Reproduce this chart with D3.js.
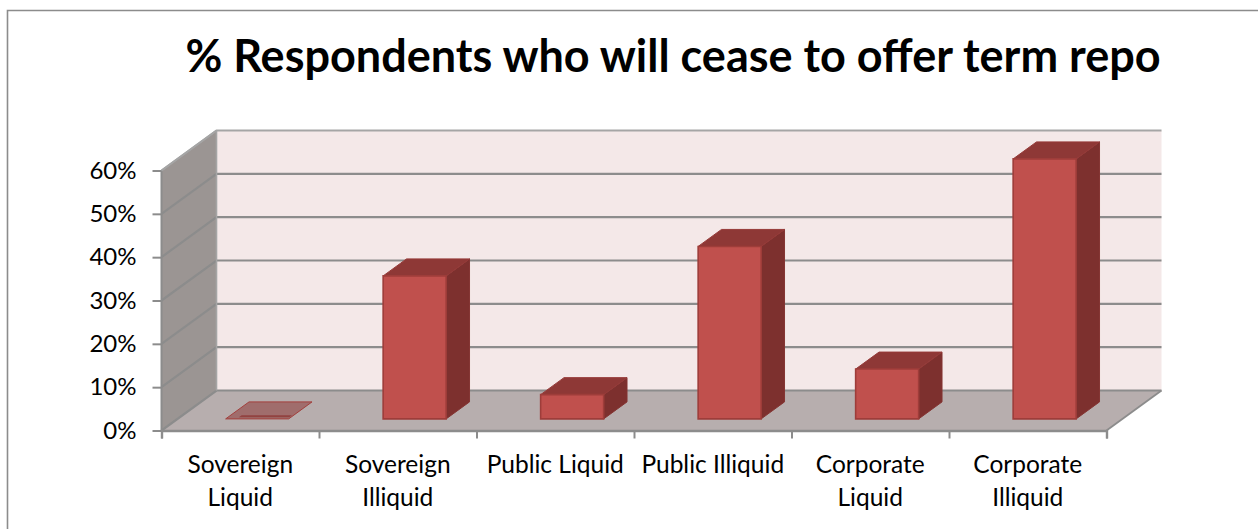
<!DOCTYPE html>
<html>
<head>
<meta charset="utf-8">
<script src="https://cdn.jsdelivr.net/npm/d3@7"></script>
<style>
  html, body { margin: 0; padding: 0; background: #fff; }
  svg { display: block; }
  text { font-family: Lato, "Open Sans", sans-serif; fill: #000; }
</style>
</head>
<body>
<svg id="chart" width="1258" height="529"></svg>
<script>
const categories = [
  ["Sovereign", "Liquid"],
  ["Sovereign", "Illiquid"],
  ["Public Liquid"],
  ["Public Illiquid"],
  ["Corporate", "Liquid"],
  ["Corporate", "Illiquid"]
];
const values = [0, 33, 5.6, 39.8, 11.5, 60];
const yTicks = [0, 10, 20, 30, 40, 50, 60];
const chartTitle = "% Respondents who will cease to offer term repo";

const svg = d3.select("#chart");

// Oblique projection: x/y locate a point on the front plane, depth (0..1) pushes it back.
const xFront = d3.scaleLinear().domain([0, 6]).range([161.5, 1106.5]);
const yFront = d3.scaleLinear().domain([0, 60]).range([430.5, 170.5]);
const depthX = d3.scaleLinear().domain([0, 1]).range([0, 55]);
const depthY = d3.scaleLinear().domain([0, 1]).range([0, -40]);
const project = (i, v, d) => [xFront(i) + depthX(d), yFront(v) + depthY(d)];
const poly = pts => pts.map(p => p.join(",")).join(" ");

const barFrontDepth = 0.29, barBackDepth = 0.715, barWidth = 0.4, barCentre = 0.506;
const gridColor = "#8c8c8c";

// Outer chart frame (top and left edges)
svg.append("path").attr("d", "M7.5,529V10.5H1258").attr("fill", "none")
  .attr("stroke", gridColor).attr("stroke-width", 1.6);

// Back wall
svg.append("polygon").attr("fill", "#f4e8e8")
  .attr("points", poly([project(0, 0, 1), project(0, 60, 1), project(6, 60, 1), project(6, 0, 1)]));

// Side wall
svg.append("polygon").attr("fill", "#9b9593")
  .attr("points", poly([project(0, 0, 0), project(0, 60, 0), project(0, 60, 1), project(0, 0, 1)]));

// Floor
svg.append("polygon").attr("fill", "#b7aeae")
  .attr("points", poly([project(0, 0, 0), project(0, 0, 1), project(6, 0, 1), project(6, 0, 0)]));

// Gridlines run along the side wall and across the back wall
const grid = svg.append("g").attr("fill", "none").attr("stroke", gridColor);
grid.selectAll("polyline").data(yTicks).join("polyline")
  .attr("stroke-width", d => d === 60 ? 1.8 : 2.2)
  .attr("stroke", d => d === 60 ? "#a5a5a5" : gridColor)
  .attr("points", d => poly([project(0, d, 0), project(0, d, 1), project(6, d, 1)]));
grid.append("line").attr("stroke-width", 2)
  .attr("x1", project(0, 0, 0)[0]).attr("y1", project(0, 0, 0)[1])
  .attr("x2", project(0, 60, 0)[0]).attr("y2", project(0, 60, 0)[1]);
grid.append("line").attr("stroke-width", 1.6).attr("stroke", "#a5a5a5")
  .attr("x1", project(0, 0, 1)[0]).attr("y1", project(0, 0, 1)[1])
  .attr("x2", project(0, 60, 1)[0]).attr("y2", project(0, 60, 1)[1]);
grid.append("line").attr("stroke-width", 1.6).attr("stroke", "#a5a5a5")
  .attr("x1", project(0, 60, 0)[0]).attr("y1", project(0, 60, 0)[1])
  .attr("x2", project(0, 60, 1)[0]).attr("y2", project(0, 60, 1)[1]);
grid.append("line").attr("stroke-width", 1.8)
  .attr("x1", project(6, 0, 0)[0]).attr("y1", project(6, 0, 0)[1])
  .attr("x2", project(6, 0, 1)[0]).attr("y2", project(6, 0, 1)[1]);

// Bars, as extruded boxes
const bars = svg.append("g").selectAll("g").data(values).join("g");
const box = (i, v) => {
  const l = i + barCentre - barWidth / 2, r = i + barCentre + barWidth / 2;
  return {
    front: [project(l, v, barFrontDepth), project(r, v, barFrontDepth), project(r, 0, barFrontDepth), project(l, 0, barFrontDepth)],
    top: [project(l, v, barFrontDepth), project(l, v, barBackDepth), project(r, v, barBackDepth), project(r, v, barFrontDepth)],
    side: [project(r, v, barFrontDepth), project(r, v, barBackDepth), project(r, 0, barBackDepth), project(r, 0, barFrontDepth)]
  };
};
bars.each(function (v, i) {
  const g = d3.select(this), b = box(i, v);
  if (v === 0) {
    // A zero-height bar shows only as a translucent footprint on the floor
    g.append("polygon").attr("points", poly(b.top))
      .attr("fill", "#8e3836").attr("fill-opacity", 0.55)
      .attr("stroke", "#a33f3c").attr("stroke-width", 1);
    const l = i + barCentre - barWidth / 2, r = i + barCentre + barWidth / 2;
    g.append("polygon").attr("fill", "#8e3836").attr("fill-opacity", 0.8)
      .attr("points", poly([project(l + 0.07, v, 0.38), project(r - 0.01, v, 0.38), project(r - 0.01, v, 0.33), project(l + 0.07, v, 0.33)]));
    return;
  }
  g.append("polygon").attr("points", poly(b.side)).attr("fill", "#7d302e").attr("stroke", "#853533").attr("stroke-width", 1);
  g.append("polygon").attr("points", poly(b.top)).attr("fill", "#8e3836").attr("stroke", "#963a38").attr("stroke-width", 1);
  g.append("polygon").attr("points", poly(b.front)).attr("fill", "#c0504d").attr("stroke", "#9e3d3a").attr("stroke-width", 1.6);
});

// Value axis
const yAxis = svg.append("g").attr("transform", `translate(${xFront(0)},0)`)
  .call(d3.axisLeft(yFront).tickValues(yTicks).tickSize(9).tickPadding(16).tickFormat(d => d + "%"));
yAxis.select(".domain").remove();
yAxis.selectAll("line").attr("stroke", gridColor).attr("stroke-width", 2);
yAxis.selectAll("text").attr("font-size", 24).style("font-family", "Lato");

// Category axis: ticks at band edges, wrapped labels at band centres
const xAxis = svg.append("g").attr("transform", `translate(0,${yFront(0)})`)
  .call(d3.axisBottom(xFront).tickValues(d3.range(7)).tickSize(8).tickFormat(""));
xAxis.select(".domain").attr("stroke", gridColor).attr("stroke-width", 2.4);
xAxis.selectAll("line").attr("stroke", gridColor).attr("stroke-width", 2);

const labels = svg.append("g").selectAll("text").data(categories).join("text")
  .attr("text-anchor", "middle").attr("font-size", 24.5)
  .attr("transform", (d, i) => `translate(${xFront(i + 0.5)},473)`);
labels.selectAll("tspan").data(d => d).join("tspan")
  .attr("x", 0).attr("y", (d, i) => i * 33).text(d => d);

// Title
svg.append("text").attr("x", 673).attr("y", 72).attr("text-anchor", "middle")
  .attr("font-size", 45).attr("font-weight", 700).text(chartTitle);
</script>
</body>
</html>
